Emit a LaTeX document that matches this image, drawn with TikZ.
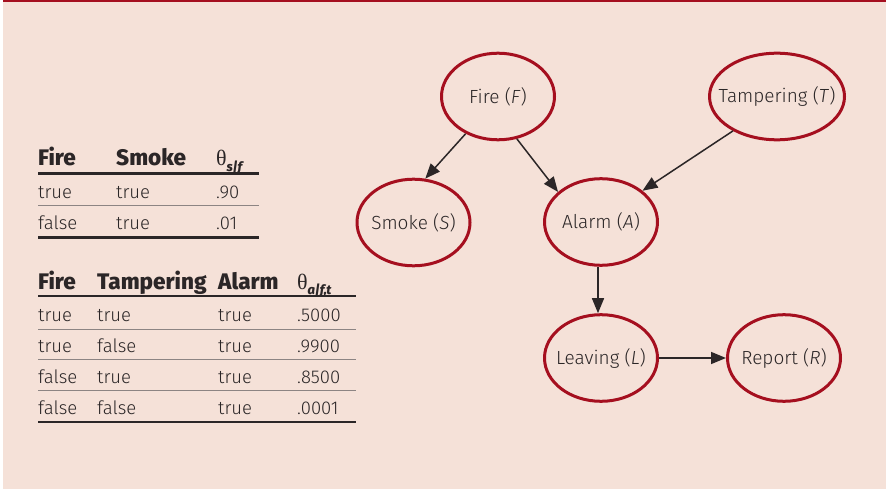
\documentclass[tikz,border=0pt]{standalone}
\usepackage{fontspec}
\setmainfont{Fira Sans Light}[BoldFont=Fira Sans ExtraBold, BoldItalicFont=Fira Sans ExtraBold Italic]
\newfontfamily\greekfont{Liberation Serif}
\usetikzlibrary{shapes.geometric,arrows.meta}
\definecolor{panelbg}{HTML}{F5E1D8}
\definecolor{rimred}{HTML}{A50F1F}
\definecolor{ink}{HTML}{2B2627}
\definecolor{rulegray}{HTML}{8C8483}
\tikzset{
  var/.style={ellipse, draw=rimred, line width=3pt, inner xsep=-25pt, inner ysep=0pt,
    minimum width=113pt, minimum height=86.6pt, text=ink,
    font=\fontsize{19}{21}\selectfont},
  link/.style={draw=ink, line width=1.5pt, -{Triangle[length=15pt,width=12pt]}},
  cell/.style={anchor=base west, inner sep=0pt, text=ink,
    font=\fontsize{18.5}{20}\selectfont},
  head/.style={anchor=base west, inner sep=0pt, text=ink,
    font=\fontsize{22.5}{24}\selectfont\bfseries},
  thickrule/.style={draw=ink, line width=2.4pt},
  thinrule/.style={draw=rulegray, line width=1pt}
}
\newcommand{\condprob}[1]{{\greekfont\fontsize{22}{24}\selectfont\mdseries θ}\raisebox{-0.45ex}{\fontsize{13}{13}\selectfont\bfseries\itshape #1}}
\begin{document}
\begin{tikzpicture}[x=1pt,y=-1pt]
  \useasboundingbox (0,0) rectangle (886,489);
  % panel
  \fill[white] (0,0) rectangle (886,489);
  \fill[panelbg] (3,0) rectangle (886,489);
  \draw[rimred, line width=1.6pt] (3,0.8) -- (886,0.8);

  % ---- conditional table: smoke given fire ----
  \node[head] (h1a) at (38,166) {Fire};
  \node[head] (h1b) at (116,166) {Smoke};
  \node[head] (h1c) at (216,166) {\condprob{s|f}};
  \draw[thickrule] (38,173.5) -- (259,173.5);
  \node[cell] (r11) at (38,198.3) {true};
  \node[cell] (r12) at (116,198.3) {true};
  \node[cell] (r13) at (216,198.3) {.90};
  \draw[thinrule] (38,206) -- (259,206);
  \node[cell] (r21) at (38,229.3) {false};
  \node[cell] (r22) at (116,229.3) {true};
  \node[cell] (r23) at (216,229.3) {.01};
  \draw[thickrule] (38,237.3) -- (259,237.3);

  % ---- conditional table: alarm given fire and tampering ----
  \node[head] (h2a) at (38,289.3) {Fire};
  \node[head] (h2b) at (97,289.3) {Tampering};
  \node[head] (h2c) at (218,289.3) {Alarm};
  \node[head] (h2d) at (297,289.3) {\condprob{a|f,t}};
  \draw[thickrule] (38,296) -- (355.5,296);
  \node[cell] (s11) at (38,321) {true};
  \node[cell] (s12) at (97,321) {true};
  \node[cell] (s13) at (218,321) {true};
  \node[cell] (s14) at (297,321) {.5000};
  \draw[thinrule] (38,329) -- (355.5,329);
  \node[cell] (s21) at (38,352.3) {true};
  \node[cell] (s22) at (97,352.3) {false};
  \node[cell] (s23) at (218,352.3) {true};
  \node[cell] (s24) at (297,352.3) {.9900};
  \draw[thinrule] (38,359.5) -- (355.5,359.5);
  \node[cell] (s31) at (38,383.3) {false};
  \node[cell] (s32) at (97,383.3) {true};
  \node[cell] (s33) at (218,383.3) {true};
  \node[cell] (s34) at (297,383.3) {.8500};
  \draw[thinrule] (38,390.7) -- (355.5,390.7);
  \node[cell] (s41) at (38,414) {false};
  \node[cell] (s42) at (97,414) {false};
  \node[cell] (s43) at (218,414) {true};
  \node[cell] (s44) at (297,414) {.0001};
  \draw[thickrule] (38,421.7) -- (355.5,421.7);

  % ---- Bayesian network ----
  \node[var] (fire) at (498,96.5) {Fire (\textit{F})};
  \node[var, minimum width=135pt] (tamper) at (777,96.5) {Tampering (\textit{T})};
  \node[var] (smoke) at (413.5,222.5) {Smoke (\textit{S})};
  \node[var] (alarm) at (601,222) {Alarm (\textit{A})};
  \node[var] (leave) at (601,358) {Leaving (\textit{L})};
  \node[var] (report) at (784,358) {Report (\textit{R})};

  \draw[link] (fire.229) -- (smoke.75);
  \draw[link] (fire.294) -- (alarm.145);
  \draw[link] (tamper.218) -- (alarm.37);
  \draw[link] ([xshift=-3pt]alarm.south) -- ([xshift=-3pt]leave.north);
  \draw[link] (leave.east) -- (report.west);
\end{tikzpicture}
\end{document}
